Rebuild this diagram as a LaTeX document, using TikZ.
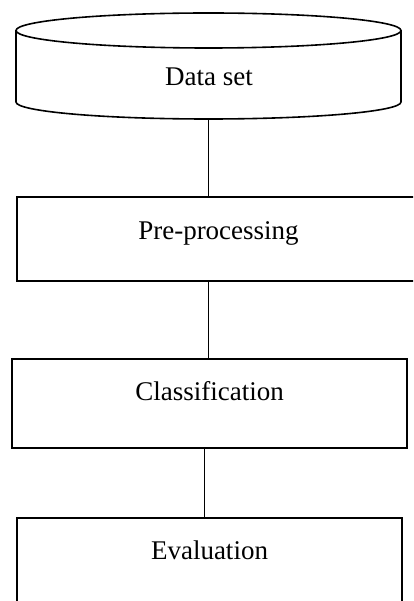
\documentclass[tikz,border=0pt]{standalone}
\usepackage{fontspec}
\setmainfont{Liberation Serif}
\usetikzlibrary{calc}
\begin{document}
\begin{tikzpicture}[x=1pt,y=-1pt,
  every node/.style={font=\fontsize{27}{30}\selectfont},
  boxstyle/.style={draw, line width=1.6pt, rectangle, inner xsep=0pt, inner ysep=0pt, anchor=north},
  dbline/.style={draw, line width=1.6pt},
  link/.style={draw, line width=0.8pt}]
\useasboundingbox (0,0) rectangle (413,601);
\clip (0,0) rectangle (413,601);
% database cylinder
\draw[dbline] (208.5,30.5) ellipse [x radius=192.5pt, y radius=17.5pt];
\draw[dbline] (16,30.5) -- (16,102) arc [start angle=180, end angle=360, x radius=192.5pt, y radius=17pt] -- (401,30.5);
\node[inner sep=0pt, anchor=base] (ds) at (209,86) {Data set};
\coordinate (dsb) at (208.5,119);
\node[boxstyle, minimum width=403pt, text height=43pt, text depth=41pt] (pre) at (218.5,196) {Pre-processing};
\node[boxstyle, minimum width=395pt, text height=42pt, text depth=47pt] (cls) at (209.5,358) {Classification};
\node[boxstyle, minimum width=385pt, text height=42pt, text depth=70pt] (eva) at (209.5,517) {Evaluation};
\draw[link] (dsb) -- (dsb |- pre.north);
\draw[link] (pre.south -| dsb) -- (cls.north -| dsb);
\draw[link] ([xshift=-5.5pt]cls.south) -- ([xshift=-5.5pt]cls.south |- eva.north);
\end{tikzpicture}
\end{document}
